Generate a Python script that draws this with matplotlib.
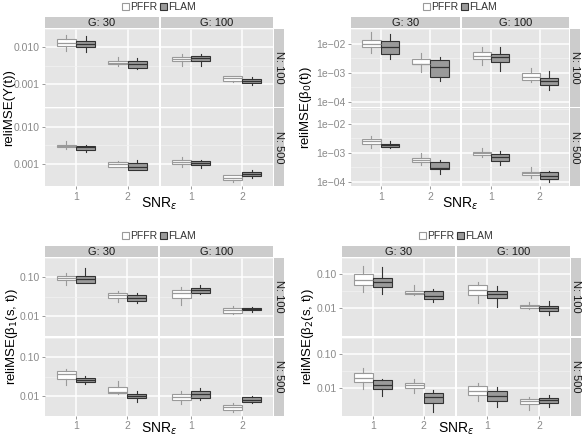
import numpy as np
import matplotlib
matplotlib.use("Agg")
import matplotlib.pyplot as plt
from matplotlib.patches import Patch

plt.rcParams['font.family'] = ['Liberation Sans', 'DejaVu Sans']

# factor levels
methods = ["PFFR", "FLAM"]
g_levels = ["G: 30", "G: 100"]
n_levels = ["N: 100", "N: 500"]
snr_levels = [1, 2]

# box stats, log10 scale: [lower whisker, q1, median, q3, upper whisker]
# order: N 100/500 -> G 30/100 -> SNR 1/2 -> PFFR/FLAM
Y_STATS = [
    [-2.10, -1.98, -1.88, -1.78, -1.67], [-2.13, -2.01, -1.91, -1.85, -1.70],
    [-2.52, -2.46, -2.43, -2.39, -2.26], [-2.59, -2.56, -2.47, -2.37, -2.29],
    [-2.50, -2.39, -2.32, -2.27, -2.19], [-2.50, -2.37, -2.30, -2.25, -2.19],
    [-2.94, -2.92, -2.85, -2.79, -2.77], [-3.02, -2.97, -2.91, -2.86, -2.80],
    [-2.60, -2.55, -2.52, -2.48, -2.39], [-2.68, -2.62, -2.56, -2.52, -2.48],
    [-3.10, -3.08, -3.01, -2.95, -2.92], [-3.18, -3.16, -3.08, -2.99, -2.89],
    [-3.08, -3.00, -2.95, -2.90, -2.82], [-3.11, -3.04, -2.99, -2.94, -2.89],
    [-3.50, -3.43, -3.38, -3.32, -3.30], [-3.39, -3.34, -3.29, -3.23, -3.17],
]
B0_STATS = [
    [-2.33, -2.13, -2.00, -1.87, -1.61], [-2.52, -2.36, -2.11, -1.92, -1.67],
    [-2.97, -2.71, -2.69, -2.52, -2.33], [-3.28, -3.13, -2.80, -2.57, -2.45],
    [-2.74, -2.54, -2.43, -2.30, -2.10], [-2.93, -2.64, -2.47, -2.36, -2.13],
    [-3.31, -3.25, -3.13, -3.02, -2.85], [-3.60, -3.41, -3.29, -3.16, -2.94],
    [-2.85, -2.69, -2.61, -2.52, -2.44], [-2.85, -2.82, -2.75, -2.69, -2.60],
    [-3.44, -3.34, -3.26, -3.18, -3.02], [-3.73, -3.57, -3.53, -3.33, -3.25],
    [-3.16, -3.10, -3.03, -2.97, -2.83], [-3.43, -3.28, -3.14, -3.05, -2.94],
    [-3.88, -3.78, -3.70, -3.66, -3.51], [-4.02, -3.91, -3.80, -3.68, -3.63],
]
B1_STATS = [
    [-1.19, -1.08, -1.02, -0.98, -0.90], [-1.15, -1.14, -1.04, -0.96, -0.76],
    [-1.63, -1.52, -1.45, -1.40, -1.35], [-1.65, -1.60, -1.52, -1.46, -1.41],
    [-1.71, -1.52, -1.41, -1.33, -1.24], [-1.44, -1.40, -1.33, -1.27, -1.20],
    [-1.93, -1.91, -1.83, -1.79, -1.73], [-1.89, -1.85, -1.81, -1.79, -1.77],
    [-1.71, -1.56, -1.44, -1.37, -1.31], [-1.68, -1.64, -1.58, -1.54, -1.48],
    [-1.95, -1.93, -1.89, -1.77, -1.62], [-2.15, -2.05, -2.00, -1.95, -1.87],
    [-2.20, -2.10, -2.02, -1.94, -1.87], [-2.11, -2.06, -1.94, -1.86, -1.79],
    [-2.42, -2.35, -2.29, -2.24, -2.17], [-2.19, -2.15, -2.09, -2.03, -2.00],
]
B2_STATS = [
    [-1.53, -1.32, -1.16, -1.00, -0.74], [-1.58, -1.37, -1.23, -1.11, -0.77],
    [-1.60, -1.57, -1.54, -1.50, -1.31], [-1.81, -1.72, -1.65, -1.50, -1.42],
    [-1.85, -1.60, -1.46, -1.32, -1.23], [-1.97, -1.69, -1.58, -1.49, -1.34],
    [-2.02, -1.99, -1.94, -1.90, -1.81], [-2.20, -2.09, -2.00, -1.93, -1.79],
    [-2.04, -1.81, -1.69, -1.57, -1.40], [-2.25, -2.02, -1.90, -1.77, -1.72],
    [-2.14, -1.99, -1.92, -1.85, -1.74], [-2.73, -2.44, -2.27, -2.16, -2.06],
    [-2.39, -2.20, -2.09, -1.95, -1.86], [-2.57, -2.39, -2.25, -2.08, -1.97],
    [-2.65, -2.48, -2.39, -2.32, -2.27], [-2.56, -2.46, -2.37, -2.30, -2.22],
]

W, H = 587, 438
fig = plt.figure(figsize=(W / 100, H / 100), dpi=100)

BG = '#E5E5E5'
STRIP = '#CCCCCC'
GREY = '#8A8A8A'
fills = ['white', '#9A9A9A']
edges = ['#9A9A9A', '#333333']


def rect(x0, y0, x1, y1):
    return [x0 / W, 1 - y1 / H, (x1 - x0) / W, (y1 - y0) / H]


def strip_axes(box, label, rot):
    sa = fig.add_axes(rect(*box))
    sa.set_facecolor(STRIP)
    sa.set_xticks([]); sa.set_yticks([])
    for s in sa.spines.values():
        s.set_visible(False)
    sa.text(0.5, 0.45 if rot == 0 else 0.5, label, ha='center', va='center',
            rotation=rot, fontsize=8, color='#1A1A1A', transform=sa.transAxes)


def draw_block(stats, ylim, majors, labels, ylabel, left, split, right, top, ylab_x):
    cols = [(left, split), (split + 2, right)]
    rows = [(top + 11.5, top + 90), (top + 91.5, top + 169.5)]
    minors = [m + 0.5 for m in majors]
    for r, (y0, y1) in enumerate(rows):
        for c, (x0, x1) in enumerate(cols):
            ax = fig.add_axes(rect(x0, y0, x1, y1))
            ax.set_facecolor(BG)
            for s in ax.spines.values():
                s.set_visible(False)
            ax.set_yscale('log')
            ax.set_ylim(10 ** ylim[0], 10 ** ylim[1])
            ax.set_xlim(0.4, 2.6)
            ax.set_xticks(snr_levels)
            ax.set_yticks([10 ** m for m in majors])
            ax.set_yticks([10 ** m for m in minors], minor=True)
            ax.set_yticklabels(labels)
            ax.set_yticklabels([], minor=True)
            ax.grid(which='major', color='white', lw=1.1)
            ax.grid(which='minor', axis='y', color='#F2F2F2', lw=0.5)
            ax.set_axisbelow(True)
            ax.tick_params(which='minor', length=0)
            ax.tick_params(which='major', length=2.5, width=0.6, color=GREY,
                           labelcolor=GREY, labelsize=7.5, pad=1.5)
            if c > 0:
                ax.tick_params(axis='y', length=0, labelleft=False)
            if r == 0:
                ax.tick_params(axis='x', length=0, labelbottom=False)
            for m in range(2):
                bs = []
                pos = []
                for s in range(2):
                    lo, q1, med, q3, hi = stats[r * 8 + c * 4 + s * 2 + m]
                    bs.append(dict(whislo=10 ** lo, q1=10 ** q1, med=10 ** med,
                                   q3=10 ** q3, whishi=10 ** hi, fliers=[]))
                    pos.append(snr_levels[s] + (m - 0.5) * 0.375)
                lc = edges[m]
                ax.bxp(bs, positions=pos, widths=0.375, patch_artist=True,
                       showcaps=False, showfliers=False, manage_ticks=False,
                       boxprops=dict(facecolor=fills[m], edgecolor=lc, lw=0.8),
                       medianprops=dict(color=lc, lw=0.9),
                       whiskerprops=dict(color=lc, lw=0.8))
            if r == 0:
                strip_axes((x0, top, x1, top + 10.5), g_levels[c], 0)
        strip_axes((right + 1, y0, right + 10.5, y1), n_levels[r], 270)

    cx = (left + right) / 2
    cy = (rows[0][0] + rows[1][1]) / 2
    fig.text(ylab_x / W, 1 - cy / H, ylabel, rotation=90, ha='center', va='center',
             fontsize=9.5)
    xlab_y = min(rows[1][1] + 26, H - 0.5)
    fig.text(cx / W, 1 - xlab_y / H, r'SNR$_\epsilon$', ha='center',
             va='bottom', fontsize=10)
    handles = [Patch(facecolor=fills[i], edgecolor=edges[i], lw=0.8) for i in range(2)]
    fig.legend(handles, methods, loc='center', bbox_to_anchor=(cx / W, 1 - (top - 10) / H),
               ncol=2, frameon=False, handlelength=0.7, handleheight=0.7,
               handletextpad=0.15, columnspacing=0.2, fontsize=7.5,
               borderpad=0, labelcolor='#333333')


draw_block(Y_STATS, (-3.62, -1.55), [-3, -2], ['0.001', '0.010'],
           'reliMSE(Y(t))', 45, 158.5, 273, 17, 9)
draw_block(B0_STATS, (-4.17, -1.48), [-4, -3, -2], ['1e\u221204', '1e\u221203', '1e\u221202'],
           r'reliMSE(β$_0$(t))', 351, 460, 569, 17, 306)
draw_block(B1_STATS, (-2.5, -0.6), [-2, -1], ['0.01', '0.10'],
           r'reliMSE(β$_1$(s, t))', 45, 158, 273, 246, 12)
draw_block(B2_STATS, (-2.82, -0.65), [-2, -1], ['0.01', '0.10'],
           r'reliMSE(β$_2$(s, t))', 342, 454.5, 570, 246, 308)

fig.savefig('out.png', dpi=100)
